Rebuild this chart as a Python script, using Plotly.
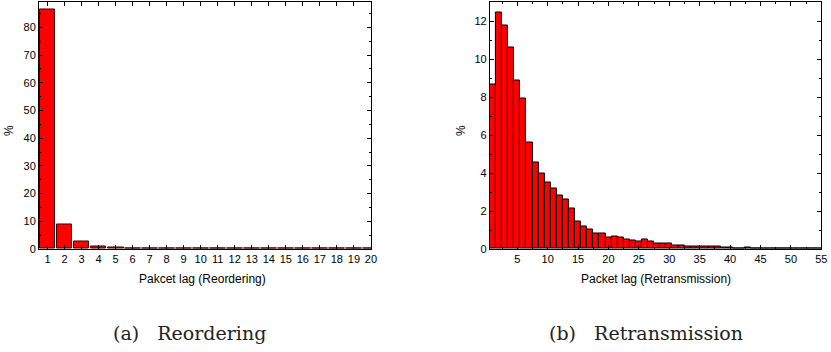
import plotly.graph_objects as go

W, H = 831, 352
# empirical correction: the photographed page comes out slightly shrunk
SX, SY = 1 / 0.993, 1 / 0.983

reorder_lag = list(range(1, 21))
reorder_pct = [86.3, 8.8, 2.6, 1.0, 0.6, 0.3, 0.15, 0.15, 0.15, 0.15,
               0.15, 0.15, 0.15, 0.15, 0.15, 0.02, 0.15, 0.15, 0.02, 0.02]

retrans_lag = list(range(1, 56))
retrans_pct = [8.66, 12.49, 11.79, 10.65, 8.9, 7.92, 5.61, 4.58, 4.0, 3.5,
               3.18, 2.83, 2.6, 2.13, 1.47, 1.2, 1.03, 0.8, 0.83, 0.63,
               0.68, 0.58, 0.48, 0.45, 0.38, 0.49, 0.37, 0.3, 0.28, 0.27,
               0.2, 0.18, 0.14, 0.12, 0.12, 0.15, 0.12, 0.14, 0.1, 0.1,
               0.05, 0.04, 0.08, 0.05, 0.03, 0.03, 0.03, 0.04, 0.02, 0.05,
               0.03, 0.02, 0.02, 0.03, 0.03]

left_xtick = list(range(1, 21))
right_xtick = list(range(5, 56, 5))

x_title_left = "Pakcet lag (Reordering)"
x_title_right = "Packet lag (Retransmission)"
caption_left = "(a)\u00a0\u00a0\u00a0Reordering"
caption_right = "(b)\u00a0\u00a0\u00a0Retransmission"


def px_x(p):
    return min(1.0, p * SX / W)


def px_y(p):
    return max(0.0, min(1.0, 1 - p * SY / H))


fig = go.Figure()
fig.add_trace(go.Bar(x=reorder_lag, y=reorder_pct, width=0.93,
                     marker=dict(color="#ff0000", line=dict(color="#3a0000", width=1)),
                     xaxis="x", yaxis="y", showlegend=False))
fig.add_trace(go.Bar(x=retrans_lag, y=retrans_pct, width=1.0,
                     marker=dict(color="#ff0000", line=dict(color="#000000", width=1)),
                     xaxis="x2", yaxis="y2", showlegend=False))

tickfont = dict(family="Liberation Sans, Arial, sans-serif", size=11, color="#000")
axis_common = dict(showline=True, linecolor="#000", linewidth=1, mirror="ticks",
                   ticks="inside", ticklen=4, tickcolor="#000", tickwidth=1,
                   showgrid=False, zeroline=False, tickfont=tickfont, fixedrange=True)

fig.update_layout(
    width=W, height=H,
    margin=dict(l=0, r=0, t=0, b=0),
    paper_bgcolor="white", plot_bgcolor="white",
    bargap=0,
    xaxis=dict(domain=[px_x(39), px_x(371)], range=[0.5, 20], tickmode="array",
               tickvals=left_xtick, anchor="y", **axis_common),
    yaxis=dict(domain=[px_y(249), px_y(2.5)], range=[0, 89], dtick=10, tick0=0,
               minor=dict(dtick=5, ticks="inside", ticklen=2, tickcolor="#000"),
               anchor="x", **axis_common),
    xaxis2=dict(domain=[px_x(490), px_x(821.5)], range=[0.5, 55], tickmode="array",
                tickvals=right_xtick,
                minor=dict(tickmode="linear", tick0=0, dtick=2.5, ticks="inside", ticklen=2, tickcolor="#000"),
                anchor="y2", **axis_common),
    yaxis2=dict(domain=[px_y(249), px_y(2.5)], range=[0, 13], dtick=2, tick0=0,
                minor=dict(dtick=1, ticks="inside", ticklen=2, tickcolor="#000"),
                anchor="x2", **axis_common),
)

lab = dict(family="Liberation Sans, Arial, sans-serif", size=12, color="#000")
cap = dict(family="DejaVu Serif, Liberation Serif, serif", size=19, color="#222")
annots = [
    dict(text=x_title_left, x=px_x(203), y=px_y(279), font=lab),
    dict(text=x_title_right, x=px_x(656), y=px_y(279), font=lab),
    dict(text="%", x=px_x(9), y=px_y(130), font=lab, textangle=-90),
    dict(text="%", x=px_x(461), y=px_y(130), font=lab, textangle=-90),
    dict(text=caption_left, x=px_x(190), y=px_y(333), font=cap),
    dict(text=caption_right, x=px_x(646), y=px_y(333), font=cap),
]
for a in annots:
    fig.add_annotation(xref="paper", yref="paper", showarrow=False,
                       xanchor="center", yanchor="middle", **a)

# remove the default 8px page margin so the figure fills the window exactly
fig.write_html("out.html", config={"displayModeBar": False},
               post_script="document.body.style.margin='0px';")
